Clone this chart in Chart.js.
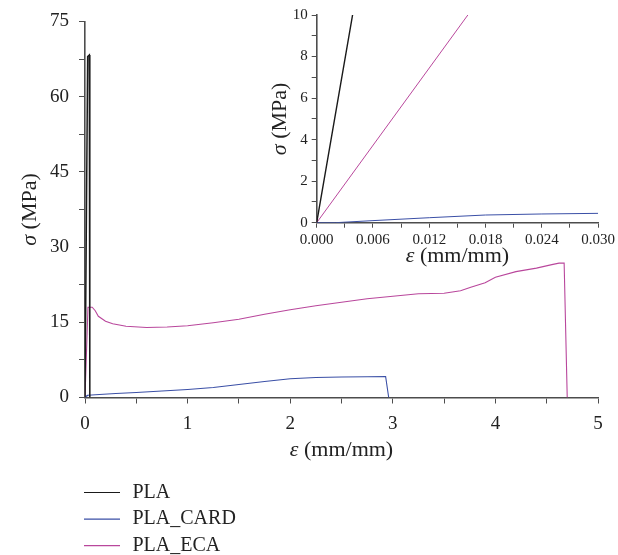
<!DOCTYPE html>
<html>
<head>
<meta charset="utf-8">
<script src="https://cdn.jsdelivr.net/npm/chart.js@4"></script>
<style>
  html, body { margin: 0; padding: 0; background: #fff; }
  #wrap { position: relative; width: 618px; height: 555px; }
  #mainChart { position: absolute; left: 0; top: 0; }
  #insetChart { position: absolute; left: 240px; top: 0; }
</style>
</head>
<body>
<div id="wrap">
  <canvas id="mainChart" width="618" height="555"></canvas>
  <canvas id="insetChart" width="378" height="275"></canvas>
</div>
<script>
// --- data ---
const seriesNames = ['PLA', 'PLA_CARD', 'PLA_ECA'];
const seriesColors = ['#1a1a1a', '#3a4fa6', '#b9479c'];

const plaStrain = [0, 0.026, 0.042, 0.047];
const plaStress = [0, 68.0, 68.3, 0];

const cardStrain = [0, 0.002, 0.006, 0.012, 0.018, 0.024, 0.03, 0.1, 0.3, 0.5, 0.75, 1.0, 1.25, 1.5, 1.75, 2.0, 2.25, 2.5, 2.75, 2.93, 2.96];
const cardStress = [0, 0, 0.1, 0.24, 0.37, 0.42, 0.45, 0.55, 0.8, 1.0, 1.3, 1.6, 2.0, 2.6, 3.2, 3.75, 4.0, 4.1, 4.15, 4.2, 0];

const ecaStrain = [0, 0.029, 0.07, 0.1, 0.13, 0.2, 0.27, 0.4, 0.6, 0.8, 1.0, 1.25, 1.5, 1.75, 2.0, 2.25, 2.5, 2.75, 3.0, 3.25, 3.5, 3.66, 3.76, 3.9, 4.0, 4.2, 4.4, 4.55, 4.62, 4.67, 4.70];
const ecaStress = [0, 18.0, 18.0, 17.3, 16.2, 15.2, 14.7, 14.2, 13.95, 14.05, 14.3, 14.9, 15.6, 16.6, 17.5, 18.3, 19.0, 19.7, 20.2, 20.7, 20.8, 21.3, 22.0, 22.9, 24.0, 25.1, 25.8, 26.5, 26.8, 26.8, 0];

const mainXRange = [0, 5];
const mainYRange = [0, 75];
const insetXRange = [0, 0.03];
const insetYRange = [0, 10];

const SERIF = '"Liberation Serif", "DejaVu Serif", serif';
const AXIS_COLOR = '#4d4d4d';
const TEXT_COLOR = '#222';

function pts(xs, ys) {
    return xs.map((x, i) => ({ x: x, y: ys[i] }));
}

function makeDatasets(width) {
    const all = [[plaStrain, plaStress], [cardStrain, cardStress], [ecaStrain, ecaStress]];
    return all.map((s, i) => ({
        label: seriesNames[i],
        data: pts(s[0], s[1]),
        borderColor: seriesColors[i],
        borderWidth: i === 0 ? width + 0.4 : width,
        pointRadius: 0,
        tension: 0,
        fill: false
    }));
}

// "σ (MPa)" / "ε (mm/mm)": italic symbol, upright unit
function drawMixed(ctx, sym, rest, size) {
    ctx.font = 'italic ' + size + 'px ' + SERIF;
    const w1 = ctx.measureText(sym).width;
    ctx.font = size + 'px ' + SERIF;
    const w2 = ctx.measureText(rest).width;
    const total = w1 + w2;
    ctx.textBaseline = 'middle';
    ctx.textAlign = 'left';
    ctx.font = 'italic ' + size + 'px ' + SERIF;
    ctx.fillText(sym, -total / 2, 0);
    ctx.font = size + 'px ' + SERIF;
    ctx.fillText(rest, -total / 2 + w1, 0);
}

const axisTitles = {
    id: 'axisTitles',
    afterDraw(chart, args, opts) {
        const ctx = chart.ctx;
        const a = chart.chartArea;
        ctx.save();
        ctx.fillStyle = TEXT_COLOR;
        ctx.save();
        ctx.translate((a.left + a.right) / 2, a.bottom + opts.xOffset);
        drawMixed(ctx, 'ε', ' (mm/mm)', opts.size);
        ctx.restore();
        ctx.save();
        ctx.translate(a.left - opts.yOffset, (a.top + a.bottom) / 2);
        ctx.rotate(-Math.PI / 2);
        drawMixed(ctx, 'σ', ' (MPa)', opts.size);
        ctx.restore();
        ctx.restore();
    }
};

// legend stacked one entry per row under the plot
const stackLegend = {
    id: 'stackLegend',
    afterDraw(chart, args, opts) {
        if (!opts.show) return;
        const ctx = chart.ctx;
        ctx.save();
        ctx.font = opts.size + 'px ' + SERIF;
        ctx.textBaseline = 'middle';
        ctx.textAlign = 'left';
        chart.data.datasets.forEach((ds, i) => {
            const y = opts.top + i * opts.gap;
            ctx.strokeStyle = ds.borderColor;
            ctx.lineWidth = 1.2;
            ctx.beginPath();
            ctx.moveTo(opts.left, y);
            ctx.lineTo(opts.left + 36, y);
            ctx.stroke();
            ctx.fillStyle = TEXT_COLOR;
            ctx.fillText(ds.label, opts.left + 48.5, y);
        });
        ctx.restore();
    }
};

function axis(range, step, labelEvery, fontSize, digits, fitSize, isX, pad, tickLen) {
    return {
        type: 'linear',
        min: range[0],
        max: range[1],
        afterFit: s => { if (isX) s.height = fitSize; else s.width = fitSize; },
        afterBuildTicks: s => {
            const t = [];
            const n = Math.round((range[1] - range[0]) / step);
            for (let i = 0; i <= n; i++) t.push({ value: range[0] + i * step });
            s.ticks = t;
        },
        ticks: {
            color: TEXT_COLOR,
            font: { family: SERIF, size: fontSize },
            padding: pad,
            autoSkip: false,
            maxRotation: 0,
            callback: (v, i) => (i % labelEvery === 0 ? Number(v).toFixed(digits) : '')
        },
        grid: { drawOnChartArea: false, drawTicks: true, tickLength: tickLen, color: AXIS_COLOR, lineWidth: 1 },
        border: { display: true, color: AXIS_COLOR, width: 1.6 }
    };
}

new Chart(document.getElementById('mainChart'), {
    type: 'line',
    data: { datasets: makeDatasets(1.1) },
    options: {
        responsive: false,
        animation: false,
        layout: { padding: { left: 0, right: 20, top: 19, bottom: 0 } },
        scales: {
            x: axis(mainXRange, 0.5, 2, 19, 0, 157.5, true, 9, 6),
            y: axis(mainYRange, 7.5, 2, 19, 0, 85, false, 10, 6)
        },
        plugins: {
            legend: { display: false },
            tooltip: { enabled: false },
            axisTitles: { size: 22, xOffset: 53, yOffset: 55 },
            stackLegend: { show: true, left: 84, top: 492.5, gap: 26.6, size: 20 }
        }
    },
    plugins: [axisTitles, stackLegend]
});

new Chart(document.getElementById('insetChart'), {
    type: 'line',
    data: { datasets: makeDatasets(1) },
    options: {
        responsive: false,
        animation: false,
        layout: { padding: { left: 0, right: 18, top: 15, bottom: 0 } },
        scales: {
            x: axis(insetXRange, 0.003, 2, 15, 3, 52.3, true, 3, 5),
            y: axis(insetYRange, 1, 2, 15, 0, 76.7, false, 4, 5)
        },
        plugins: {
            legend: { display: false },
            tooltip: { enabled: false },
            axisTitles: { size: 22, xOffset: 34, yOffset: 36 },
            stackLegend: { show: false }
        }
    },
    plugins: [axisTitles, stackLegend]
});
</script>
</body>
</html>
